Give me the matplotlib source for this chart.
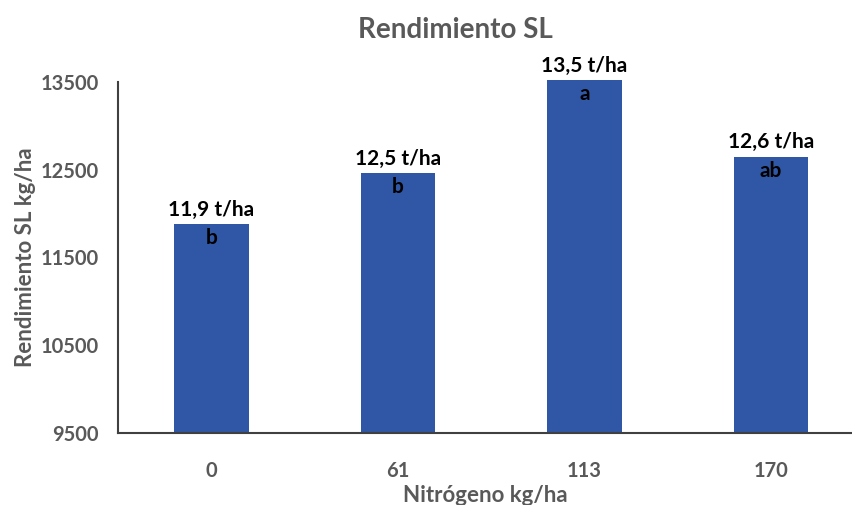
import matplotlib.pyplot as plt
import numpy as np

plt.rcParams['font.family'] = ['Lato', 'DejaVu Sans']

# nitrogen doses and yield per dose
dosis = ["0", "61", "113", "170"]
rendimiento = [11880, 12460, 13520, 12650]
etiquetas = ["11,9 t/ha", "12,5 t/ha", "13,5 t/ha", "12,6 t/ha"]
letras = ["b", "b", "a", "ab"]

GRIS = "#595959"
AZUL = "#3057A6"
BASE = 9500

fig = plt.figure(figsize=(8.53, 5.05), dpi=100)
ax = fig.add_axes([118 / 853, (505 - 433) / 505, (853 - 118) / 853, (433 - 82) / 505])

x = np.arange(len(dosis))
# bars start at the axis floor so the tallest one may poke above the top
ax.bar(x, np.array(rendimiento) - BASE, bottom=BASE, width=0.4, color=AZUL,
       zorder=2, clip_on=False)

for xi, v, et, le in zip(x, rendimiento, etiquetas, letras):
    ax.annotate(et, (xi, v), xytext=(0, 3), textcoords="offset points",
                ha="center", va="bottom", fontsize=15, fontweight="bold",
                color="black", annotation_clip=False)
    ax.annotate(le, (xi, v), xytext=(0, -3), textcoords="offset points",
                ha="center", va="top", fontsize=15, fontweight="bold",
                color="black", annotation_clip=False)

ax.set_ylim(BASE, 13500)
ax.set_yticks([9500, 10500, 11500, 12500, 13500])
ax.set_xlim(-0.5, 3.44)
ax.set_xticks(x)
ax.set_xticklabels(dosis)

for s in ["top", "right"]:
    ax.spines[s].set_visible(False)
for s in ["left", "bottom"]:
    ax.spines[s].set_color("#404040")
    ax.spines[s].set_linewidth(1.5)

ax.tick_params(axis="both", length=0, labelsize=14.5, labelcolor=GRIS)
ax.tick_params(axis="x", pad=20)
ax.tick_params(axis="y", pad=14)
for lab in ax.get_xticklabels() + ax.get_yticklabels():
    lab.set_fontweight("bold")

ax.set_xlabel("Nitrógeno kg/ha", fontsize=16, fontweight="bold", color=GRIS, labelpad=3)
ax.set_ylabel("Rendimiento SL kg/ha", fontsize=16, fontweight="bold", color=GRIS, labelpad=3)
fig.text(455 / 853, 1 - 30 / 505, "Rendimiento SL", ha="center", va="center",
         fontsize=20, fontweight="bold", color=GRIS)

plt.savefig("out.png", dpi=100)
